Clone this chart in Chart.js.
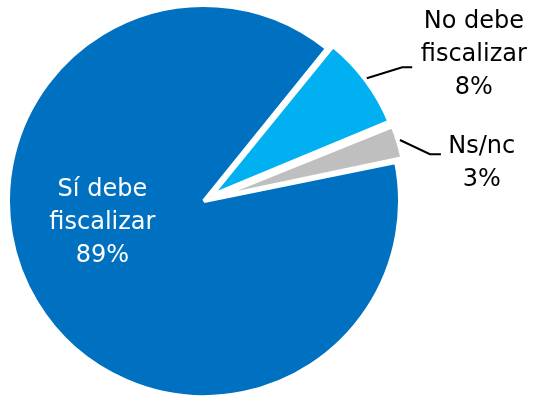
<!DOCTYPE html>
<html>
<head>
<meta charset="utf-8">
<script src="https://cdn.jsdelivr.net/npm/chart.js@4/dist/chart.umd.min.js"></script>
<style>
  html, body { margin: 0; padding: 0; background: #fff; }
  #wrap { width: 534px; height: 398px; }
</style>
</head>
<body>
<div id="wrap"><canvas id="pie"></canvas></div>
<script>
// Data
const categories = ["Sí debe fiscalizar", "No debe fiscalizar", "Ns/nc"];
const shares = [89, 8, 3];
const sliceColors = ["#0070C0", "#00B0F0", "#BFBFBF"];
// Chart.js v4 moves a slice by offset / 4
const sliceOffsets = [0, 36, 44];
// visible outer radius of each slice, px
const sliceRadii = [196, 193, 192];

// label text lines for each slice
const labelLines = [
  ["Sí debe", "fiscalizar", "89%"],
  ["No debe", "fiscalizar", "8%"],
  ["Ns/nc", "3%"],
];
// label placement, polar around the pie centre: angle (deg from 12 o'clock), distance in radii
const labelPlace = [
  { angle: 258, dist: 0.53, color: "#fff" },
  { angle: 61.6, dist: 1.565, color: "#000" },
  { angle: 82.2, dist: 1.43, color: "#000" },
];
// leader lines: start and elbow (polar), then a short horizontal run
const leaders = [
  null,
  { from: [53, 1.04], elbow: [56, 1.22], run: 10 },
  { from: [72.7, 1.047], elbow: [78.3, 1.177], run: 11 },
];

function polar(cx, cy, r, angleDeg, f) {
  const a = angleDeg * Math.PI / 180;
  return [cx + Math.sin(a) * r * f, cy - Math.cos(a) * r * f];
}

// keep exploded slices from growing (Chart.js enlarges them with the offset)
const sliceSize = {
  id: "sliceSize",
  afterDatasetUpdate(chart) {
    chart.getDatasetMeta(0).data.forEach((arc, i) => {
      const grow = sliceOffsets[i] / 4 * (1 - Math.sin(Math.min(Math.PI, arc.circumference)));
      arc.outerRadius = sliceRadii[i] - grow;
    });
  },
};

const sliceLabels = {
  id: "sliceLabels",
  afterDatasetsDraw(chart) {
    const ctx = chart.ctx;
    const arc = chart.getDatasetMeta(0).data[0];
    const cx = arc.x, cy = arc.y, r = arc.outerRadius;
    ctx.save();
    ctx.font = "24px 'DejaVu Sans'";
    ctx.textAlign = "center";
    ctx.textBaseline = "middle";
    const lh = 33;
    labelLines.forEach((lines, i) => {
      const p = labelPlace[i];
      const [x, y] = polar(cx, cy, r, p.angle, p.dist);
      ctx.fillStyle = p.color;
      const top = y - (lines.length - 1) * lh / 2;
      lines.forEach((t, j) => ctx.fillText(t, x, top + j * lh));
    });
    ctx.strokeStyle = "#000";
    ctx.lineWidth = 2;
    leaders.forEach((l) => {
      if (!l) return;
      const a = polar(cx, cy, r, l.from[0], l.from[1]);
      const b = polar(cx, cy, r, l.elbow[0], l.elbow[1]);
      ctx.beginPath();
      ctx.moveTo(a[0], a[1]);
      ctx.lineTo(b[0], b[1]);
      ctx.lineTo(b[0] + l.run, b[1]);
      ctx.stroke();
    });
    ctx.restore();
  },
};

new Chart(document.getElementById("pie"), {
  type: "pie",
  data: {
    labels: categories,
    datasets: [{
      data: shares,
      backgroundColor: sliceColors,
      borderColor: "#fff",
      borderWidth: 4,
      offset: sliceOffsets,
      hoverOffset: 0,
      radius: sliceRadii[0],
    }],
  },
  options: {
    responsive: true,
    maintainAspectRatio: false,
    animation: false,
    rotation: 78.5,
    layout: { padding: { left: 0, right: 126, top: 4, bottom: 0 } },
    plugins: {
      legend: { display: false },
      tooltip: { enabled: false },
    },
  },
  plugins: [sliceSize, sliceLabels],
});
</script>
</body>
</html>
